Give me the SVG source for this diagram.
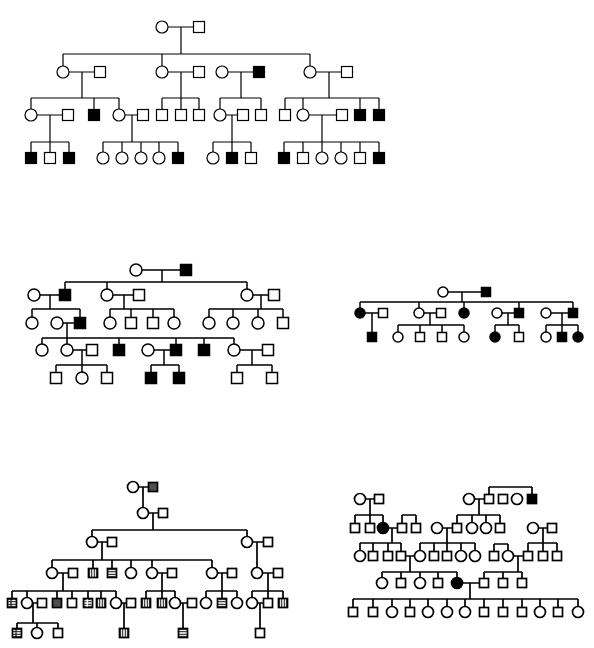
<svg xmlns="http://www.w3.org/2000/svg" width="594" height="648" viewBox="0 0 594 648">
<style>
.o{fill:#fff;stroke:#000}
.k{fill:#000;stroke:#000}
.v{fill:url(#pv);stroke:#000}
.h{fill:url(#ph);stroke:#000}
.g{fill:url(#pg);stroke:#000}
.d{fill:url(#pd);stroke:#000}
.ln{fill:none;stroke:#000}
#p1,#c1{stroke-width:1.2}
#p2,#c2,#p3,#c3{stroke-width:1.5}
#p4,#c4,#p5,#c5{stroke-width:1.7}
</style>
<defs>
<rect id="S11" x="-5.5" y="-5.5" width="11" height="11"/>
<circle id="C6" r="6"/>
<rect id="S9" x="-4.5" y="-4.5" width="9" height="9"/>
<circle id="C5" r="5"/>
<circle id="C55" r="5.5"/>
<pattern id="pv" width="2.5" height="2.5" patternUnits="userSpaceOnUse"><rect width="2.5" height="2.5" fill="#fff"/><line x1="1.25" y1="0" x2="1.25" y2="2.5" stroke="#000" stroke-width="1"/></pattern>
<pattern id="ph" width="2.5" height="2.5" patternUnits="userSpaceOnUse"><rect width="2.5" height="2.5" fill="#fff"/><line x1="0" y1="1.25" x2="2.5" y2="1.25" stroke="#000" stroke-width="1"/></pattern>
<pattern id="pg" width="2" height="2" patternUnits="userSpaceOnUse"><rect width="2" height="2" fill="#fff"/><path d="M1 0V2M0 1H2" stroke="#000" stroke-width="0.9"/></pattern>
<pattern id="pd" width="5" height="2.5" patternUnits="userSpaceOnUse"><rect width="5" height="2.5" fill="#fff"/><line x1="0" y1="1.25" x2="3.5" y2="1.25" stroke="#000" stroke-width="1"/></pattern>
</defs>

<g id="connectors">
<path id="c1" class="ln" d="M168 27H193.5M181 27V54M63 54H310M63 54V66M162 54V66M310 54V66
M69 72H94.5M168 72H193.5M228 72H253.5M316 72H341.5
M82 72V98M181 72V98M241 72V98M329 72V98
M31 98H119M31 98V109M94 98V109.5M119 98V109
M162 98H199M162 98V109.5M181 98V109.5M199 98V109.5
M220 98H261M220 98V109M261 98V109.5
M285 98H379M285 98V109.5M303 98V109M360 98V109.5M379 98V109.5
M37 115H62.5M125 115H137.5M226 115H237.5M309 115H336.5
M50 115V142M132 115V142M232 115V142M322 115V142
M31 142H69M31 142V152.5M50 142V152.5M69 142V152.5
M103 142H178M103 142V152M122 142V152M141 142V152M159 142V152M178 142V152.5
M213 142H251M213 142V152M232 142V152.5M251 142V152.5
M284 142H379M284 142V152.5M303 142V152.5M322 142V152M341 142V152M360 142V152.5M379 142V152.5"/>
<path id="c2" class="ln" d="M142 270H180.5M162 270V282M65 282H247M65 282V289.5M107 282V289M247 282V289
M40 295H59.5M113 295H133.5M253 295H268.5
M50 295V309M124 295V309M261 295V309
M32 309H80M32 309V317M80 309V317.5
M110 309H174M110 309V317M131 309V317.5M153 309V317.5M174 309V317
M209 309H283M209 309V317M233 309V317M258 309V317M283 309V317.5
M63 323H74.5M67 323V338
M42 338H234M42 338V344M67 338V344M119 338V344.5M176 338V344.5M204 338V344.5M234 338V344
M73 350H86.5M154 350H170.5M240 350H262.5
M82 350V365M164 350V365M252 350V365
M56 365H107M56 365V372.5M82 365V372M107 365V372.5
M151 365H179M151 365V372.5M179 365V372.5
M237 365H272M237 365V372.5M272 365V372.5"/>
<path id="c3" class="ln" d="M448 292H481.5M462 292V302M360 302H573M360 302V308M419 302V308M464 302V308M519 302V308.5M573 302V308.5
M365 313H378.5M424 313H436.5M502 313H514.5M551 313H568.5
M372 313V332.5M430 313V325M508 313V325M562 313V325
M398 325H464M398 325V332M420 325V332.5M442 325V332.5M464 325V332
M495 325H519M495 325V332M519 325V332.5
M546 325H578M546 325V332M562 325V332.5M578 325V332"/>
<path id="c4" class="ln" d="M138.5 487H148.5M143 487V507.5M148.5 513H158.5M153 513V530M92 530H247M92 530V536.5M247 530V536.5
M97.5 542H107.5M252.5 542H263.5M102 542V560M257 542V567.5
M52 560H212M52 560V567.5M93 560V568.5M112 560V568.5M131 560V567.5M152 560V567.5M212 560V567.5
M57.5 573H68.5M157.5 573H167.5M217.5 573H227.5M262.5 573H273.5
M63 573V591M162 573V591M222 573V591M268 573V591
M12 591H116M12 591V598.5M27 591V597.5M57 591V598.5M72 591V598.5M88 591V598.5M101 591V598.5M116 591V597.5
M146 591H175M146 591V598.5M162 591V598.5M175 591V597.5
M206 591H237M206 591V597.5M222 591V598.5M237 591V597.5
M252 591H283M252 591V597.5M268 591V598.5M283 591V598.5
M32.5 603H37.5M121.5 603H126.5M180.5 603H187.5M257.5 603H263.5
M33 603V623M124 603V628.5M183 603V628.5M260 603V628.5
M17 623H58M17 623V628.5M37 623V627.5M58 623V628.5"/>
<path id="c5" class="ln" d="M489 487H532M489 487V494.5M532 487V494.5
M474.5 499H484.5M479 499V515
M457 515H500M457 515V523.5M472 515V522.5M486 515V522.5M500 515V523.5
M442.5 528H452.5M447 528V543
M365.5 499H374.5M370 499V515
M355 515H383M355 515V523.5M370 515V523.5M383 515V522.5
M402 515H416M402 515V523.5M416 515V523.5
M388.5 528H397.5M392 528V543
M538.5 528H547.5M543 528V543
M360 543H401M360 543V550.5M373 543V551.5M388 543V551.5M401 543V551.5
M420 543H475M420 543V550.5M434 543V551.5M447 543V551.5M461 543V550.5M475 543V550.5
M494 544H508M494 544V551.5M508 544V550.5
M528 543H557M528 543V551.5M543 543V551.5M557 543V551.5
M405.5 556H414.5M410 556V572M513.5 556H523.5M518 556V572
M382 572H457M382 572V577.5M401 572V578.5M420 572V577.5M438 572V578.5M457 572V577.5
M484 572H522M484 572V578.5M503 572V578.5M522 572V578.5
M462.5 583H479.5M470 583V599
M353 599H578M353 599V607.5M373 599V607.5M392 599V606.5M410 599V607.5M428 599V606.5M447 599V606.5M465 599V606.5M484 599V607.5M503 599V607.5M522 599V607.5M540 599V606.5M558 599V607.5M578 599V606.5"/>
</g>

<g id="p1">
<g id="p1-1"><use href="#C6" x="162" y="27" class="o"/></g>
<g id="p1-2"><use href="#S11" x="199" y="27" class="o"/></g>
<g id="p1-3"><use href="#C6" x="63" y="72" class="o"/></g>
<g id="p1-4"><use href="#S11" x="100" y="72" class="o"/></g>
<g id="p1-5"><use href="#C6" x="162" y="72" class="o"/></g>
<g id="p1-6"><use href="#S11" x="199" y="72" class="o"/></g>
<g id="p1-7"><use href="#C6" x="222" y="72" class="o"/></g>
<g id="p1-8"><use href="#S11" x="259" y="72" class="k"/></g>
<g id="p1-9"><use href="#C6" x="310" y="72" class="o"/></g>
<g id="p1-10"><use href="#S11" x="347" y="72" class="o"/></g>
<g id="p1-11"><use href="#C6" x="31" y="115" class="o"/></g>
<g id="p1-12"><use href="#S11" x="68" y="115" class="o"/></g>
<g id="p1-13"><use href="#S11" x="94" y="115" class="k"/></g>
<g id="p1-14"><use href="#C6" x="119" y="115" class="o"/></g>
<g id="p1-15"><use href="#S11" x="143" y="115" class="o"/></g>
<g id="p1-16"><use href="#S11" x="162" y="115" class="o"/></g>
<g id="p1-17"><use href="#S11" x="181" y="115" class="o"/></g>
<g id="p1-18"><use href="#S11" x="199" y="115" class="o"/></g>
<g id="p1-19"><use href="#C6" x="220" y="115" class="o"/></g>
<g id="p1-20"><use href="#S11" x="243" y="115" class="o"/></g>
<g id="p1-21"><use href="#S11" x="261" y="115" class="o"/></g>
<g id="p1-22"><use href="#S11" x="285" y="115" class="o"/></g>
<g id="p1-23"><use href="#C6" x="303" y="115" class="o"/></g>
<g id="p1-24"><use href="#S11" x="342" y="115" class="o"/></g>
<g id="p1-25"><use href="#S11" x="360" y="115" class="k"/></g>
<g id="p1-26"><use href="#S11" x="379" y="115" class="k"/></g>
<g id="p1-27"><use href="#S11" x="31" y="158" class="k"/></g>
<g id="p1-28"><use href="#S11" x="50" y="158" class="o"/></g>
<g id="p1-29"><use href="#S11" x="69" y="158" class="k"/></g>
<g id="p1-30"><use href="#C6" x="103" y="158" class="o"/></g>
<g id="p1-31"><use href="#C6" x="122" y="158" class="o"/></g>
<g id="p1-32"><use href="#C6" x="141" y="158" class="o"/></g>
<g id="p1-33"><use href="#C6" x="159" y="158" class="o"/></g>
<g id="p1-34"><use href="#S11" x="178" y="158" class="k"/></g>
<g id="p1-35"><use href="#C6" x="213" y="158" class="o"/></g>
<g id="p1-36"><use href="#S11" x="232" y="158" class="k"/></g>
<g id="p1-37"><use href="#S11" x="251" y="158" class="o"/></g>
<g id="p1-38"><use href="#S11" x="284" y="158" class="k"/></g>
<g id="p1-39"><use href="#S11" x="303" y="158" class="o"/></g>
<g id="p1-40"><use href="#C6" x="322" y="158" class="o"/></g>
<g id="p1-41"><use href="#C6" x="341" y="158" class="o"/></g>
<g id="p1-42"><use href="#S11" x="360" y="158" class="o"/></g>
<g id="p1-43"><use href="#S11" x="379" y="158" class="k"/></g>
</g>

<g id="p2">
<g id="p2-1"><use href="#C6" x="136" y="270" class="o"/></g>
<g id="p2-2"><use href="#S11" x="186" y="270" class="k"/></g>
<g id="p2-3"><use href="#C6" x="34" y="295" class="o"/></g>
<g id="p2-4"><use href="#S11" x="65" y="295" class="k"/></g>
<g id="p2-5"><use href="#C6" x="107" y="295" class="o"/></g>
<g id="p2-6"><use href="#S11" x="139" y="295" class="o"/></g>
<g id="p2-7"><use href="#C6" x="247" y="295" class="o"/></g>
<g id="p2-8"><use href="#S11" x="274" y="295" class="o"/></g>
<g id="p2-9"><use href="#C6" x="32" y="323" class="o"/></g>
<g id="p2-10"><use href="#C6" x="57" y="323" class="o"/></g>
<g id="p2-11"><use href="#S11" x="80" y="323" class="k"/></g>
<g id="p2-12"><use href="#C6" x="110" y="323" class="o"/></g>
<g id="p2-13"><use href="#S11" x="131" y="323" class="o"/></g>
<g id="p2-14"><use href="#S11" x="153" y="323" class="o"/></g>
<g id="p2-15"><use href="#C6" x="174" y="323" class="o"/></g>
<g id="p2-16"><use href="#C6" x="209" y="323" class="o"/></g>
<g id="p2-17"><use href="#C6" x="233" y="323" class="o"/></g>
<g id="p2-18"><use href="#C6" x="258" y="323" class="o"/></g>
<g id="p2-19"><use href="#S11" x="283" y="323" class="o"/></g>
<g id="p2-20"><use href="#C6" x="42" y="350" class="o"/></g>
<g id="p2-21"><use href="#C6" x="67" y="350" class="o"/></g>
<g id="p2-22"><use href="#S11" x="92" y="350" class="o"/></g>
<g id="p2-23"><use href="#S11" x="119" y="350" class="k"/></g>
<g id="p2-24"><use href="#C6" x="148" y="350" class="o"/></g>
<g id="p2-25"><use href="#S11" x="176" y="350" class="k"/></g>
<g id="p2-26"><use href="#S11" x="204" y="350" class="k"/></g>
<g id="p2-27"><use href="#C6" x="234" y="350" class="o"/></g>
<g id="p2-28"><use href="#S11" x="268" y="350" class="o"/></g>
<g id="p2-29"><use href="#S11" x="56" y="378" class="o"/></g>
<g id="p2-30"><use href="#C6" x="82" y="378" class="o"/></g>
<g id="p2-31"><use href="#S11" x="107" y="378" class="o"/></g>
<g id="p2-32"><use href="#S11" x="151" y="378" class="k"/></g>
<g id="p2-33"><use href="#S11" x="179" y="378" class="k"/></g>
<g id="p2-34"><use href="#S11" x="237" y="378" class="o"/></g>
<g id="p2-35"><use href="#S11" x="272" y="378" class="o"/></g>
</g>

<g id="p3">
<g id="p3-1"><use href="#C5" x="443" y="292" class="o"/></g>
<g id="p3-2"><use href="#S9" x="486" y="292" class="k"/></g>
<g id="p3-3"><use href="#C5" x="360" y="313" class="k"/></g>
<g id="p3-4"><use href="#S9" x="383" y="313" class="o"/></g>
<g id="p3-5"><use href="#C5" x="419" y="313" class="o"/></g>
<g id="p3-6"><use href="#S9" x="441" y="313" class="o"/></g>
<g id="p3-7"><use href="#C5" x="464" y="313" class="k"/></g>
<g id="p3-8"><use href="#C5" x="497" y="313" class="o"/></g>
<g id="p3-9"><use href="#S9" x="519" y="313" class="k"/></g>
<g id="p3-10"><use href="#C5" x="546" y="313" class="o"/></g>
<g id="p3-11"><use href="#S9" x="573" y="313" class="k"/></g>
<g id="p3-12"><use href="#S9" x="372" y="337" class="k"/></g>
<g id="p3-13"><use href="#C5" x="398" y="337" class="o"/></g>
<g id="p3-14"><use href="#S9" x="420" y="337" class="o"/></g>
<g id="p3-15"><use href="#S9" x="442" y="337" class="o"/></g>
<g id="p3-16"><use href="#C5" x="464" y="337" class="o"/></g>
<g id="p3-17"><use href="#C5" x="495" y="337" class="k"/></g>
<g id="p3-18"><use href="#S9" x="519" y="337" class="o"/></g>
<g id="p3-19"><use href="#C5" x="546" y="337" class="o"/></g>
<g id="p3-20"><use href="#S9" x="562" y="337" class="k"/></g>
<g id="p3-21"><use href="#C5" x="578" y="337" class="k"/></g>
</g>

<g id="p4">
<g id="p4-1"><use href="#C55" x="133" y="487" class="o"/></g>
<g id="p4-2"><use href="#S9" x="153" y="487" class="g"/></g>
<g id="p4-3"><use href="#C55" x="143" y="513" class="o"/></g>
<g id="p4-4"><use href="#S9" x="163" y="513" class="o"/></g>
<g id="p4-5"><use href="#C55" x="92" y="542" class="o"/></g>
<g id="p4-6"><use href="#S9" x="112" y="542" class="o"/></g>
<g id="p4-7"><use href="#C55" x="247" y="542" class="o"/></g>
<g id="p4-8"><use href="#S9" x="268" y="542" class="o"/></g>
<g id="p4-9"><use href="#C55" x="52" y="573" class="o"/></g>
<g id="p4-10"><use href="#S9" x="73" y="573" class="o"/></g>
<g id="p4-11"><use href="#S9" x="93" y="573" class="v"/></g>
<g id="p4-12"><use href="#S9" x="112" y="573" class="h"/></g>
<g id="p4-13"><use href="#C55" x="131" y="573" class="o"/></g>
<g id="p4-14"><use href="#C55" x="152" y="573" class="o"/></g>
<g id="p4-15"><use href="#S9" x="172" y="573" class="o"/></g>
<g id="p4-16"><use href="#C55" x="212" y="573" class="o"/></g>
<g id="p4-17"><use href="#S9" x="232" y="573" class="o"/></g>
<g id="p4-18"><use href="#C55" x="257" y="573" class="o"/></g>
<g id="p4-19"><use href="#S9" x="278" y="573" class="o"/></g>
<g id="p4-20"><use href="#S9" x="12" y="603" class="h"/><line x1="11" y1="598.5" x2="11" y2="607.5" stroke="#000" stroke-width="1"/></g>
<g id="p4-21"><use href="#C55" x="27" y="603" class="o"/></g>
<g id="p4-22"><use href="#S9" x="42" y="603" class="o"/></g>
<g id="p4-23"><use href="#S9" x="57" y="603" class="g"/></g>
<g id="p4-24"><use href="#S9" x="72" y="603" class="o"/></g>
<g id="p4-25"><use href="#S9" x="88" y="603" class="d"/></g>
<g id="p4-26"><use href="#S9" x="101" y="603" class="v"/></g>
<g id="p4-27"><use href="#C55" x="116" y="603" class="o"/></g>
<g id="p4-28"><use href="#S9" x="131" y="603" class="o"/></g>
<g id="p4-29"><use href="#S9" x="146" y="603" class="v"/></g>
<g id="p4-30"><use href="#S9" x="162" y="603" class="v"/></g>
<g id="p4-31"><use href="#C55" x="175" y="603" class="o"/></g>
<g id="p4-32"><use href="#S9" x="192" y="603" class="o"/></g>
<g id="p4-33"><use href="#C55" x="206" y="603" class="o"/></g>
<g id="p4-34"><use href="#S9" x="222" y="603" class="h"/></g>
<g id="p4-35"><use href="#C55" x="237" y="603" class="o"/></g>
<g id="p4-36"><use href="#C55" x="252" y="603" class="o"/></g>
<g id="p4-37"><use href="#S9" x="268" y="603" class="o"/></g>
<g id="p4-38"><use href="#S9" x="283" y="603" class="v"/></g>
<g id="p4-39"><use href="#S9" x="17" y="633" class="h"/><line x1="16" y1="628.5" x2="16" y2="637.5" stroke="#000" stroke-width="1"/></g>
<g id="p4-40"><use href="#C55" x="37" y="633" class="o"/></g>
<g id="p4-41"><use href="#S9" x="58" y="633" class="o"/></g>
<g id="p4-42"><use href="#S9" x="124" y="633" class="v"/></g>
<g id="p4-43"><use href="#S9" x="183" y="633" class="h"/></g>
<g id="p4-44"><use href="#S9" x="260" y="633" class="o"/></g>
</g>

<g id="p5">
<g id="p5-1"><use href="#C55" x="360" y="499" class="o"/></g>
<g id="p5-2"><use href="#S9" x="379" y="499" class="o"/></g>
<g id="p5-3"><use href="#C55" x="469" y="499" class="o"/></g>
<g id="p5-4"><use href="#S9" x="489" y="499" class="o"/></g>
<g id="p5-5"><use href="#S9" x="503" y="499" class="o"/></g>
<g id="p5-6"><use href="#C55" x="517" y="499" class="o"/></g>
<g id="p5-7"><use href="#S9" x="532" y="499" class="k"/></g>
<g id="p5-8"><use href="#S9" x="355" y="528" class="o"/></g>
<g id="p5-9"><use href="#S9" x="370" y="528" class="o"/></g>
<g id="p5-10"><use href="#C55" x="383" y="528" class="k"/></g>
<g id="p5-11"><use href="#S9" x="402" y="528" class="o"/></g>
<g id="p5-12"><use href="#S9" x="416" y="528" class="o"/></g>
<g id="p5-13"><use href="#C55" x="437" y="528" class="o"/></g>
<g id="p5-14"><use href="#S9" x="457" y="528" class="o"/></g>
<g id="p5-15"><use href="#C55" x="472" y="528" class="o"/></g>
<g id="p5-16"><use href="#C55" x="486" y="528" class="o"/></g>
<g id="p5-17"><use href="#S9" x="500" y="528" class="o"/></g>
<g id="p5-18"><use href="#C55" x="533" y="528" class="o"/></g>
<g id="p5-19"><use href="#S9" x="552" y="528" class="o"/></g>
<g id="p5-20"><use href="#C55" x="360" y="556" class="o"/></g>
<g id="p5-21"><use href="#S9" x="373" y="556" class="o"/></g>
<g id="p5-22"><use href="#S9" x="388" y="556" class="o"/></g>
<g id="p5-23"><use href="#S9" x="401" y="556" class="o"/></g>
<g id="p5-24"><use href="#C55" x="420" y="556" class="o"/></g>
<g id="p5-25"><use href="#S9" x="434" y="556" class="o"/></g>
<g id="p5-26"><use href="#S9" x="447" y="556" class="o"/></g>
<g id="p5-27"><use href="#C55" x="461" y="556" class="o"/></g>
<g id="p5-28"><use href="#C55" x="475" y="556" class="o"/></g>
<g id="p5-29"><use href="#S9" x="494" y="556" class="o"/></g>
<g id="p5-30"><use href="#C55" x="508" y="556" class="o"/></g>
<g id="p5-31"><use href="#S9" x="528" y="556" class="o"/></g>
<g id="p5-32"><use href="#S9" x="543" y="556" class="o"/></g>
<g id="p5-33"><use href="#S9" x="557" y="556" class="o"/></g>
<g id="p5-34"><use href="#C55" x="382" y="583" class="o"/></g>
<g id="p5-35"><use href="#S9" x="401" y="583" class="o"/></g>
<g id="p5-36"><use href="#C55" x="420" y="583" class="o"/></g>
<g id="p5-37"><use href="#S9" x="438" y="583" class="o"/></g>
<g id="p5-38"><use href="#C55" x="457" y="583" class="k"/></g>
<g id="p5-39"><use href="#S9" x="484" y="583" class="o"/></g>
<g id="p5-40"><use href="#S9" x="503" y="583" class="o"/></g>
<g id="p5-41"><use href="#S9" x="522" y="583" class="o"/></g>
<g id="p5-42"><use href="#S9" x="353" y="612" class="o"/></g>
<g id="p5-43"><use href="#S9" x="373" y="612" class="o"/></g>
<g id="p5-44"><use href="#C55" x="392" y="612" class="o"/></g>
<g id="p5-45"><use href="#S9" x="410" y="612" class="o"/></g>
<g id="p5-46"><use href="#C55" x="428" y="612" class="o"/></g>
<g id="p5-47"><use href="#C55" x="447" y="612" class="o"/></g>
<g id="p5-48"><use href="#C55" x="465" y="612" class="o"/></g>
<g id="p5-49"><use href="#S9" x="484" y="612" class="o"/></g>
<g id="p5-50"><use href="#S9" x="503" y="612" class="o"/></g>
<g id="p5-51"><use href="#S9" x="522" y="612" class="o"/></g>
<g id="p5-52"><use href="#C55" x="540" y="612" class="o"/></g>
<g id="p5-53"><use href="#S9" x="558" y="612" class="o"/></g>
<g id="p5-54"><use href="#C55" x="578" y="612" class="o"/></g>
</g>
</svg>
